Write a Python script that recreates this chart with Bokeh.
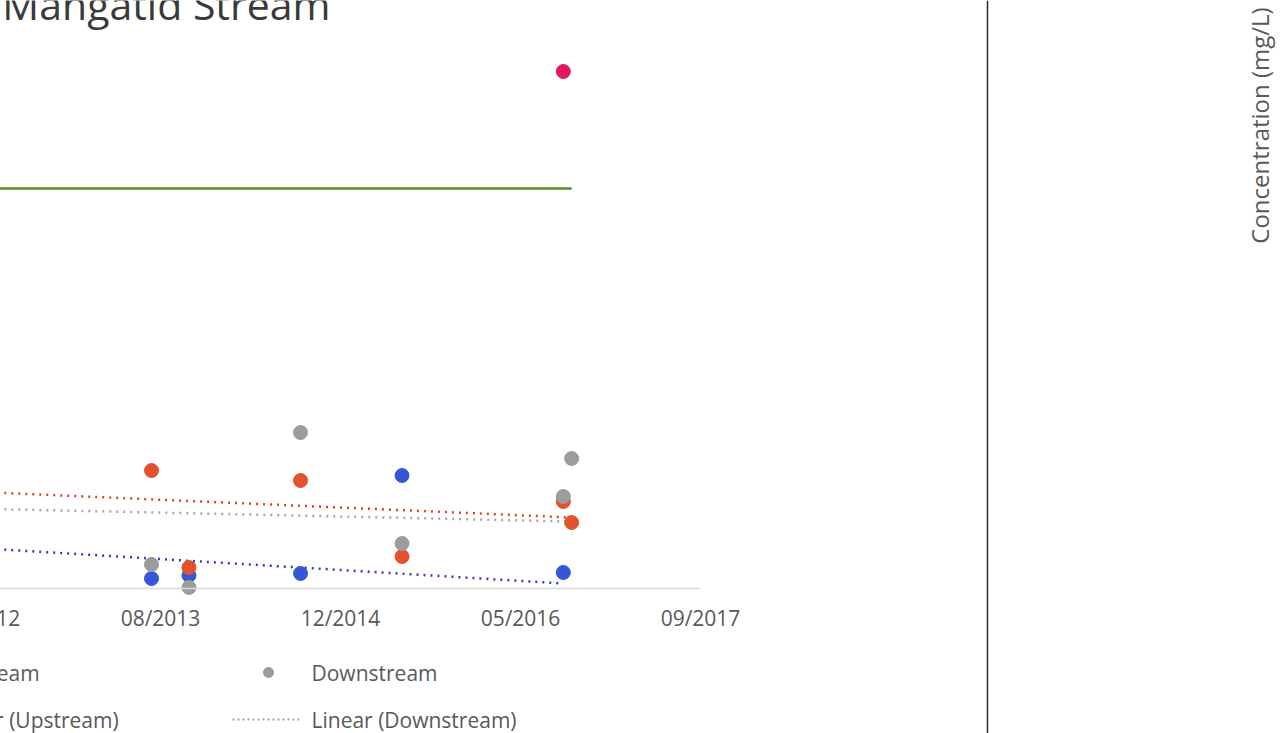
import numpy as np
from bokeh.plotting import figure
from bokeh.models import Range1d, FixedTicker, DatetimeTickFormatter, DatetimeAxis
from bokeh.core.properties import value
from bokeh.embed import file_html
from bokeh.resources import INLINE

# ---- data -----------------------------------------------------------------
site_dates = ["2013-07-20", "2013-11-01", "2014-09-07", "2015-06-16", "2016-09-06"]
site_vals = [0.010, 0.013, 0.015, 0.113, 0.016]

up_dates = ["2013-07-20", "2013-11-01", "2014-09-07", "2015-06-16", "2016-09-06", "2016-09-29"]
upstream = [0.118, 0.021, 0.108, 0.032, 0.087, 0.066]

down_dates = ["2013-07-20", "2013-11-01", "2014-09-07", "2015-06-16", "2016-09-06", "2016-09-29"]
downstream = [0.024, 0.001, 0.156, 0.045, 0.092, 0.130]

peak_dates = ["2016-09-06"]
peak_vals = [0.517]

guideline_dates = ["2011-06-01", "2016-09-29"]
guideline_vals = [0.40, 0.40]

# linear trend lines (end points)
trend_site_dates = ["2012-03-01", "2016-09-06"]
trend_site_vals = [0.041, 0.005]
trend_up_dates = ["2012-03-01", "2016-09-29"]
trend_up_vals = [0.097, 0.071]
trend_down_dates = ["2012-03-01", "2016-09-29"]
trend_down_vals = [0.080, 0.067]

tick_dates = ["2012-04-01", "2013-08-14", "2014-12-27", "2016-05-10", "2017-09-22"]

title_text = "Mangatid Stream"
y_title_text = "Concentration (mg/L)"

# ---- colours / fonts --------------------------------------------------------
C_SITE = "#3457d5"
C_UP = "#e2522f"
C_DOWN = "#9c9c9c"
C_PEAK = "#e0195a"
C_GUIDE = "#5f8a1e"
C_TREND_SITE = "#2b3fc8"
C_TREND_UP = "#e0402a"
C_TREND_DOWN = "#a8a8a8"
C_TEXT = "#595959"
FONT = "Open Sans"


def ms(d):
    return float(np.datetime64(d, "ms").astype("int64"))


def ms_list(ds):
    return [ms(d) for d in ds]


# ---- canvas geometry --------------------------------------------------------
# The figure is wider than the window and shifted left, so the chart's left
# part (with the y axis) lies outside the visible page.
W, H = 1282, 733
SHIFT = 60
X0_PX = 160          # visible pixel column of the 2013-08-14 tick
PX_PER_DAY = 0.36
Y0_PX = 588          # pixel row of the zero line
PX_PER_UNIT = 1000.0
DAY_MS = 86400000.0
anchor = ms(tick_dates[1])


def xd(px):
    return anchor + (px - X0_PX) / PX_PER_DAY * DAY_MS


def yd(py):
    return (Y0_PX - py) / PX_PER_UNIT


p = figure(width=W + SHIFT, height=H,
           x_range=Range1d(xd(-SHIFT), xd(W)), y_range=Range1d(yd(H), yd(0)),
           x_axis_location=None, y_axis_location=None,
           toolbar_location=None, output_backend="svg", min_border=0,
           styles={"margin-left": f"-{SHIFT}px"})
p.outline_line_color = None
p.background_fill_color = "white"
p.border_fill_color = "white"
p.grid.visible = False

fmt = "%m/%Y"
xaxis = DatetimeAxis(
    ticker=FixedTicker(ticks=ms_list(tick_dates)),
    formatter=DatetimeTickFormatter(milliseconds=fmt, seconds=fmt, minsec=fmt, minutes=fmt,
                                    hourmin=fmt, hours=fmt, days=fmt, months=fmt, years=fmt),
    fixed_location=0,
    bounds=(xd(-SHIFT), ms(tick_dates[-1])),
)
xaxis.axis_line_color = "#d9d9d9"
xaxis.axis_line_width = 1.5
xaxis.major_tick_line_color = None
xaxis.minor_tick_line_color = None
xaxis.major_label_text_font = FONT
xaxis.major_label_text_font_size = "21px"
xaxis.major_label_text_color = C_TEXT
xaxis.major_label_standoff = 9
p.add_layout(xaxis, "below")

# guideline
p.line(ms_list(guideline_dates), guideline_vals, line_color=C_GUIDE, line_width=2.5)

# trend lines
for d, v, c in [(trend_site_dates, trend_site_vals, C_TREND_SITE),
                (trend_up_dates, trend_up_vals, C_TREND_UP),
                (trend_down_dates, trend_down_vals, C_TREND_DOWN)]:
    p.line(ms_list(d), v, line_color=c, line_width=2.5, line_dash="2 5")

# samples
MS = 14
p.scatter(ms_list(site_dates), site_vals, size=MS, fill_color=C_SITE, line_color=C_SITE)
p.scatter(ms_list(up_dates), upstream, size=MS, fill_color=C_UP, line_color=C_UP)
p.scatter(ms_list(down_dates), downstream, size=MS, fill_color=C_DOWN, line_color=C_DOWN)
p.scatter(ms_list(peak_dates), peak_vals, size=MS, fill_color=C_PEAK, line_color=C_PEAK)

# title
p.text([xd(330)], [yd(3)], text=[title_text], text_font=value(FONT),
       text_font_size="41px", text_color="#3a3a3a", text_baseline="middle",
       text_align="right")

# legend (two rows, three columns)
ROW1, ROW2 = 672, 719
cols = [(-58, C_UP, "Upstream", C_TREND_UP, "Linear (Upstream)"),
        (311, C_DOWN, "Downstream", C_TREND_DOWN, "Linear (Downstream)")]
for tx, mc, lab, tc, tlab in cols:
    p.scatter([xd(tx - 43)], [yd(ROW1)], size=10, fill_color=mc, line_color=mc)
    p.text([xd(tx)], [yd(ROW1)], text=[lab], text_font=value(FONT), text_font_size="21px",
           text_color=C_TEXT, text_baseline="middle", text_align="left")
    p.line([xd(tx - 79), xd(tx - 11)], [yd(ROW2), yd(ROW2)], line_color=tc,
           line_width=2, line_dash="2 3")
    p.text([xd(tx)], [yd(ROW2)], text=[tlab], text_font=value(FONT), text_font_size="21px",
           text_color=C_TEXT, text_baseline="middle", text_align="left")

# divider to the neighbouring chart
p.line([xd(987), xd(987)], [yd(0), yd(H)], line_color="#2a2a2a", line_width=1.5)

# y axis title of the neighbouring chart
p.text([xd(1259)], [yd(125)], text=[y_title_text], angle=np.pi / 2,
       text_font=value(FONT), text_font_size="24px", text_color=C_TEXT,
       text_baseline="middle", text_align="center")

open("out.html", "w").write(file_html(p, INLINE))
